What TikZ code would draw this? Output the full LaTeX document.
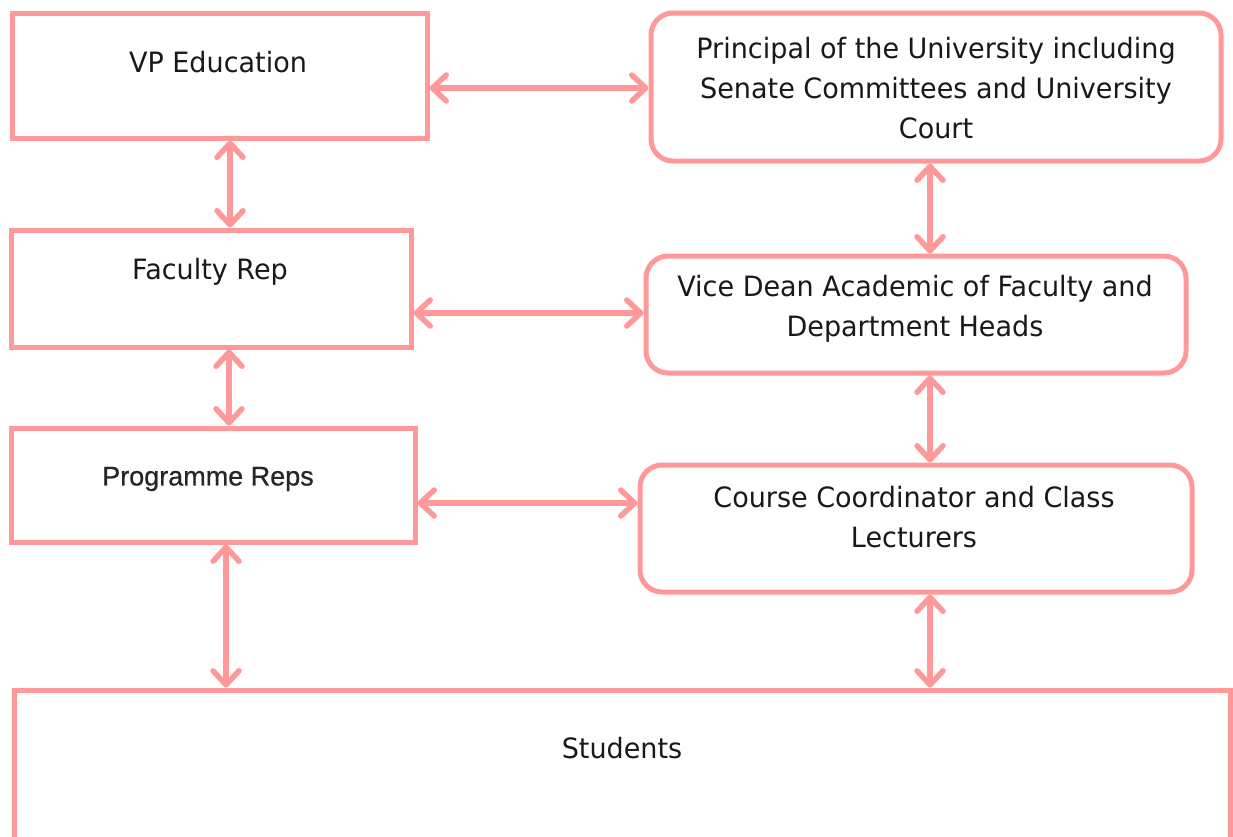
\documentclass[tikz,border=0pt]{standalone}
\usepackage{fontspec}
\setmainfont{DejaVu Sans}[FakeStretch=0.965]
\newfontfamily\progfont{Liberation Sans}[FakeBold=0.6]
\usetikzlibrary{arrows.meta}
\definecolor{pinkc}{RGB}{255,153,153}
\tikzset{
  boxsq/.style={draw=pinkc, line width=5pt, fill=white, inner sep=0pt},
  boxrd/.style={boxsq, rounded corners=22pt},
  txt/.style={align=center, inner sep=0pt, font=\fontsize{28}{40}\selectfont, text=black!90},
  link/.style={draw=pinkc, line width=5.5pt, line cap=round,
    {Straight Barb[round,length=14pt,width=26pt]}-{Straight Barb[round,length=14pt,width=26pt]}},
}
\begin{document}
\begin{tikzpicture}[x=1pt,y=-1pt]
\useasboundingbox (0,0) rectangle (1233,836);
% boxes
\node[boxsq, minimum width=415pt, minimum height=125pt] (vp) at (219.5,75.5) {};
\node[boxrd, minimum width=570pt, minimum height=148pt] (pr) at (936,87) {};
\node[boxsq, minimum width=400pt, minimum height=117pt] (fr) at (211,288.5) {};
\node[boxrd, minimum width=540pt, minimum height=117pt] (vd) at (916,314.5) {};
\node[boxsq, minimum width=404pt, minimum height=114pt] (pg) at (213,485) {};
\node[boxrd, minimum width=552pt, minimum height=127pt] (cc) at (916,528.5) {};
\node[boxsq, minimum width=1216pt, minimum height=230pt] (st) at (622,805) {};
% texts
\node[txt] (tvp) at (218,62) {VP Education};
\node[txt] (tpr) at (936,88) {Principal of the University including\\Senate Committees and University\\Court};
\node[txt] (tfr) at (210,272) {Faculty Rep};
\node[txt] (tvd) at (915,309) {Vice Dean Academic of Faculty and\\Department Heads};
\node[txt, font=\progfont\fontsize{27}{30}\selectfont, text=black!85] (tpg) at (208,479) {Programme Reps};
\node[txt] (tcc) at (914,517) {Course Coordinator and Class\\Lecturers};
\node[txt] (tst) at (622,748) {Students};
% connector guides
\coordinate (h1) at (0,88);
\coordinate (h2) at (0,313);
\coordinate (h3) at (0,503);
\coordinate (v1) at (230,0);
\coordinate (v2) at (930,0);
\coordinate (v3) at (229,0);
\coordinate (v5) at (226,0);
% connectors
\draw[link] (vp.east |- h1) -- (pr.west |- h1);
\draw[link] (vp.south -| v1) -- (fr.north -| v1);
\draw[link] (pr.south -| v2) -- (vd.north -| v2);
\draw[link] (fr.east |- h2) -- (vd.west |- h2);
\draw[link] (fr.south -| v3) -- (pg.north -| v3);
\draw[link] (vd.south -| v2) -- (cc.north -| v2);
\draw[link] (pg.east |- h3) -- (cc.west |- h3);
\draw[link] (pg.south -| v5) -- (st.north -| v5);
\draw[link] (cc.south -| v2) -- (st.north -| v2);
\end{tikzpicture}
\end{document}
